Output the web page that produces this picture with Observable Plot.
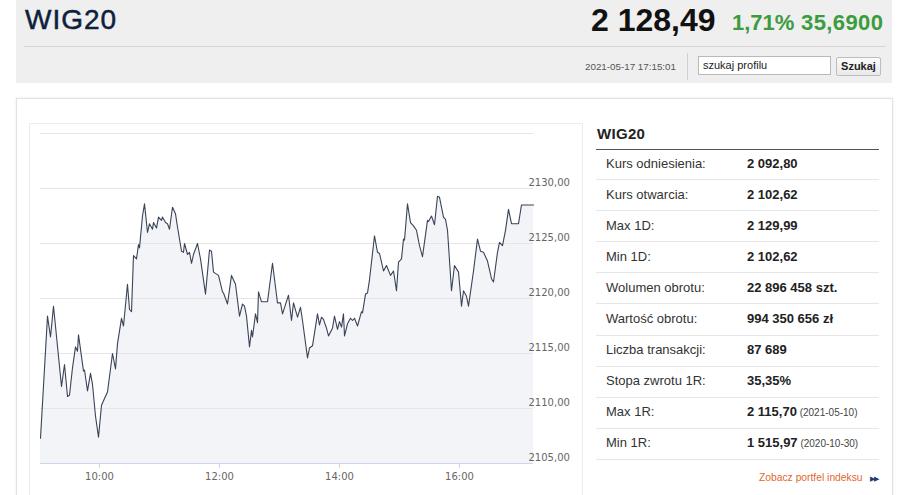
<!DOCTYPE html>
<html>
<head>
<meta charset="utf-8">
<script src="https://cdn.jsdelivr.net/npm/d3@7"></script>
<script src="https://cdn.jsdelivr.net/npm/@observablehq/plot@0.6"></script>
<style>
  html, body { margin: 0; padding: 0; background: #fff; }
  body { width: 922px; height: 495px; position: relative; overflow: hidden; font-family: "Liberation Sans", Arial, sans-serif; color: #222; }
  .abs { position: absolute; white-space: nowrap; }
  #header { left: 16px; top: 0; width: 876px; height: 83px; background: #efefef; }
  #title { left: 25px; top: 3px; font-size: 28px; color: #0e1f3d; letter-spacing: 1px; line-height: 34px; -webkit-text-stroke: 0.5px #0e1f3d; }
  #price { left: 591px; top: 2px; font-size: 32px; font-weight: bold; color: #111; line-height: 36px; }
  #pct { left: 732px; top: 10px; font-size: 22px; font-weight: bold; color: #3b9c3d; line-height: 26px; }
  #chg { left: 801px; top: 10px; font-size: 22px; font-weight: bold; color: #3b9c3d; line-height: 26px; letter-spacing: 0.4px; }
  #hline { left: 24px; top: 46px; width: 862px; height: 1px; background: #d6d6d6; }
  #date { left: 585px; top: 61px; font-size: 9.8px; color: #555; line-height: 12px; }
  #vsep { left: 687px; top: 53px; width: 1px; height: 27px; background: #d0d0d0; }
  #search { left: 698px; top: 56px; height: 17px; background: #fff; border: 1px solid #b9b9b9; font-size: 11px; line-height: 17px; padding-left: 4px; box-sizing: content-box; width: 127px; color: #222; }
  #btn { left: 836px; top: 57px; width: 43px; height: 17px; border: 1px solid #bdbdbd; background: linear-gradient(#fbfbfb, #e9e9e9); font-size: 11px; font-weight: bold; line-height: 17px; text-align: center; color: #222; border-radius: 2px; }
  #card { left: 16px; top: 98px; width: 875px; height: 420px; border: 1px solid #e2e2e2; box-shadow: 0 0 3px rgba(0,0,0,0.08); background: #fff; }
  #chartbox { left: 29px; top: 123px; width: 552px; height: 400px; border: 1px solid #ececec; background: #fff; }
  #chart { left: 29px; top: 123px; }
  #ptitle { left: 597px; top: 125px; font-size: 15px; font-weight: bold; color: #222; line-height: 18px; letter-spacing: 0.3px; }
  #prule { left: 596px; top: 149px; width: 283px; height: 1px; background: #555; }
  .lbl { font-size: 13px; color: #333; line-height: 16px; }
  .val { font-size: 13px; color: #222; font-weight: bold; line-height: 16px; }
  .val small { font-size: 10px; font-weight: normal; color: #444; }
  .sep { height: 1px; background: #e6e6e6; width: 283px; left: 596px; }
  #more { left: 759px; top: 471px; font-size: 10.3px; color: #e2682f; line-height: 14px; }
  #arrows { left: 870px; top: 473px; font-size: 7px; color: #1d3b6e; line-height: 12px; letter-spacing: -1.5px; }
</style>
</head>
<body>
<div id="header" class="abs"></div>
<div id="title" class="abs">WIG20</div>
<div id="price" class="abs">2 128,49</div>
<div id="pct" class="abs">1,71%</div>
<div id="chg" class="abs">35,6900</div>
<div id="hline" class="abs"></div>
<div id="date" class="abs">2021-05-17 17:15:01</div>
<div id="vsep" class="abs"></div>
<div id="search" class="abs">szukaj profilu</div>
<div id="btn" class="abs">Szukaj</div>
<div id="card" class="abs"></div>
<div id="chartbox" class="abs"></div>
<div id="chart" class="abs"></div>
<div id="ptitle" class="abs">WIG20</div>
<div id="prule" class="abs"></div>
<div id="panel"></div>
<div id="more" class="abs">Zobacz portfel indeksu</div>
<div id="arrows" class="abs">▶▶</div>
<script>
// ---- data ----
const times = [
  "09:01","09:08","09:11","09:14","09:22","09:25","09:28","09:30","09:33","09:36",
  "09:38","09:39","09:44","09:45","09:48","09:51","09:53","09:56","09:59","10:02",
  "10:04","10:08","10:13","10:16","10:18","10:22","10:24","10:28","10:30","10:32",
  "10:34","10:37","10:39","10:40","10:43","10:45","10:48","10:50","10:53","10:54",
  "10:57","10:59","11:02","11:03","11:06","11:08","11:10","11:13","11:16","11:18",
  "11:22","11:24","11:25","11:28","11:30","11:32","11:34","11:38","11:41","11:46",
  "11:50","11:52","11:54","11:59","12:03","12:04","12:08","12:12","12:16","12:20",
  "12:23","12:25","12:27","12:30","12:32","12:33","12:36","12:38","12:39","12:42",
  "12:48","12:53","12:58","13:01","13:03","13:09","13:12","13:14","13:18","13:21",
  "13:23","13:28","13:30","13:33","13:38","13:40","13:42","13:44","13:47","13:49",
  "13:53","13:55","13:58","14:00","14:02","14:04","14:05","14:08","14:11","14:13",
  "14:15","14:18","14:22","14:23","14:26","14:28","14:30","14:35","14:38","14:40",
  "14:44","14:47","14:51","14:54","14:57","14:59","15:02","15:04","15:05","15:08",
  "15:11","15:14","15:17","15:20","15:23","15:28","15:29","15:32","15:35","15:38",
  "15:40","15:44","15:46","15:48","15:52","15:55","15:59","16:02","16:04","16:07",
  "16:09","16:14","16:18","16:21","16:24","16:28","16:32","16:34","16:38","16:40",
  "16:43","16:46","16:49","16:52","16:59","17:02","17:14"
];
const values = [
  2107.3,2118.4,2116.5,2119.3,2112.0,2114.0,2111.1,2111.2,2113.7,2115.6,
  2115.2,2116.7,2113.4,2113.5,2111.6,2113.2,2112.2,2109.3,2107.4,2110.3,
  2110.7,2111.5,2115.0,2113.6,2115.9,2118.2,2117.5,2121.3,2119.0,2118.8,
  2123.9,2123.6,2124.9,2124.6,2127.5,2128.6,2126.0,2126.8,2126.3,2126.9,
  2126.4,2127.4,2127.1,2127.4,2126.9,2126.8,2126.3,2128.3,2127.7,2126.5,
  2124.3,2124.2,2125.0,2124.0,2124.2,2123.2,2124.0,2125.0,2123.6,2120.4,
  2124.4,2124.3,2122.4,2122.1,2120.6,2120.5,2119.5,2122.1,2121.3,2118.4,
  2119.5,2119.3,2118.4,2115.6,2117.1,2116.5,2118.6,2117.8,2120.6,2119.7,
  2119.7,2123.2,2119.6,2119.6,2118.6,2120.3,2118.0,2119.6,2118.3,2119.2,
  2118.0,2114.6,2115.5,2115.7,2118.6,2117.6,2118.3,2118.1,2117.3,2116.6,
  2117.3,2118.4,2117.2,2117.9,2117.4,2118.6,2116.6,2117.7,2118.2,2118.0,
  2118.2,2117.5,2118.8,2118.7,2120.4,2120.5,2121.7,2125.7,2124.2,2124.1,
  2122.5,2123.0,2122.1,2122.5,2120.7,2123.3,2123.6,2125.4,2125.3,2128.6,
  2126.9,2126.6,2126.2,2124.8,2123.8,2127.1,2127.0,2127.5,2126.7,2129.3,
  2129.2,2127.4,2127.2,2126.2,2120.7,2123.0,2122.4,2119.3,2120.7,2120.2,
  2119.3,2122.5,2125.4,2124.3,2124.2,2123.4,2121.8,2121.5,2124.2,2125.1,
  2124.8,2126.2,2128.1,2126.8,2126.8,2128.5,2128.5
];
const xDomain = ["09:01", "17:14"];
const xTicks = ["10:00", "12:00", "14:00", "16:00"];
const yTicks = [2105, 2110, 2115, 2120, 2125, 2130];
const yGrid = [2110, 2115, 2120, 2125, 2130, 2135];
const yDomain = [2105, 2135];

const statLabels = ["Kurs odniesienia:", "Kurs otwarcia:", "Max 1D:", "Min 1D:", "Wolumen obrotu:", "Wartość obrotu:", "Liczba transakcji:", "Stopa zwrotu 1R:", "Max 1R:", "Min 1R:"];
const statValues = ["2 092,80", "2 102,62", "2 129,99", "2 102,62", "22 896 458 szt.", "994 350 656 zł", "87 689", "35,35%", "2 115,70", "1 515,97"];
const statDates = ["", "", "", "", "", "", "", "", "(2021-05-10)", "(2020-10-30)"];

// ---- chart ----
const parse = d3.utcParse("%H:%M");
const fmt = d3.utcFormat("%H:%M");
const data = times.map((t, i) => ({t: parse(t), v: values[i]}));
const yFmt = d => d.toFixed(2).replace(".", ",");

const chart = Plot.plot({
  width: 553,
  height: 372,
  marginLeft: 11,
  marginRight: 49,
  marginTop: 10,
  marginBottom: 32,
  x: {type: "utc", domain: xDomain.map(parse)},
  y: {domain: yDomain},
  style: {fontFamily: "'DejaVu Sans', Verdana, sans-serif", fontSize: "10px", color: "#666", background: "transparent", overflow: "visible"},
  marks: [
    Plot.areaY(data, {x: "t", y1: yDomain[0], y2: "v", fill: "#f3f4f7"}),
    Plot.ruleY(yGrid, {stroke: "#e6e6e6"}),
    Plot.lineY(data, {x: "t", y: "v", stroke: "#3a4458", strokeWidth: 1.1}),
    Plot.ruleY([yDomain[0]], {stroke: "#ccd6eb"}),
    Plot.axisY(yTicks, {anchor: "right", tickSize: 0, tickPadding: 3, dx: -8, dy: -6, textAnchor: "start", tickFormat: yFmt, fill: "#666", label: null}),
    Plot.axisX(xTicks.map(parse), {tickSize: 5, tickPadding: 4, stroke: "#ccd6eb", tickFormat: fmt, fill: "#666", label: null})
  ]
});
document.getElementById("chart").appendChild(chart);

// ---- stats panel ----
const panel = document.getElementById("panel");
const pitch = 31.1;
statLabels.forEach((lab, i) => {
  const cy = 163.5 + i * pitch;
  const l = document.createElement("div");
  l.className = "abs lbl"; l.style.left = "606px"; l.style.top = (cy - 8) + "px"; l.textContent = lab;
  panel.appendChild(l);
  const v = document.createElement("div");
  v.className = "abs val"; v.style.left = "747px"; v.style.top = (cy - 8) + "px";
  v.textContent = statValues[i];
  if (statDates[i]) { const s = document.createElement("small"); s.textContent = " " + statDates[i]; v.appendChild(s); }
  panel.appendChild(v);
  const sp = document.createElement("div");
  sp.className = "abs sep"; sp.style.top = Math.round(cy + 15.5) + "px";
  panel.appendChild(sp);
});
</script>
</body>
</html>
